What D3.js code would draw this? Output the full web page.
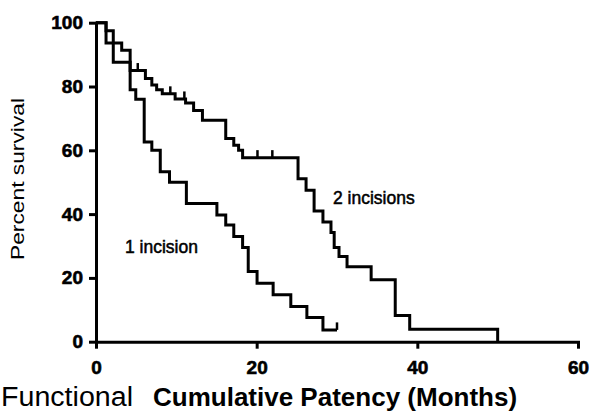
<!DOCTYPE html>
<html>
<head>
<meta charset="utf-8">
<script src="https://cdn.jsdelivr.net/npm/d3@7"></script>
<style>
    body { margin: 0; background: #fff; }
    #chart { width: 591px; height: 415px; }
    text { font-family: "Liberation Sans", Arial, sans-serif; fill: #000; }
</style>
</head>
<body>
<div id="chart"></div>
<script>

// Kaplan-Meier steps: [months, percent]
const twoIncisions = [
    [0, 100], [1.25, 93.6], [3.2, 91.4], [4.25, 85], [6.15, 82.5], [6.95, 80.5],
    [7.55, 79], [8.25, 77.7], [9.85, 76.1], [11.15, 74.8], [12.15, 72.5],
    [13.25, 69.4], [16.15, 63.7], [17.15, 61.6], [17.75, 60], [18.25, 57.7],
    [25.15, 51.1], [26.15, 47.5], [27.15, 41], [28.25, 37.5], [29.25, 34.2],
    [29.65, 29.5], [30.25, 26.7], [31.25, 23.5], [34.25, 19.4], [37.25, 8.2],
    [39.05, 3.9], [50, 0]
];
const twoIncisionsCensored = [5.2, 9.25, 11.0, 20.1, 21.95];

const oneIncision = [
    [0, 100], [1.25, 97.5], [2.15, 87.6], [4.25, 79], [4.95, 76], [6.0, 62.6],
    [6.95, 60], [8.0, 53.3], [9.15, 50], [11.25, 43.3], [15.05, 39.7],
    [16.15, 36.6], [17.15, 33], [18.25, 29.5], [18.95, 22], [20.05, 18.3],
    [22.05, 14.7], [24.25, 11], [26.25, 7.6], [28.25, 3.7], [30, 3.7]
];
const oneIncisionCensored = [30];

const xTicks = [0, 20, 40, 60];
const yTicks = [0, 20, 40, 60, 80, 100];

const width = 591;
const height = 415;

const svg = d3.select("#chart")
    .append("svg")
    .attr("width", width)
    .attr("height", height);

const x = d3.scaleLinear().domain([0, 60]).range([96, 578]);
const y = d3.scaleLinear().domain([0, 100]).range([341.7, 22.7]);

// axes
const yAxis = svg.append("g")
    .attr("transform", "translate(" + x(0) + ",0)")
    .call(d3.axisLeft(y).tickValues(yTicks).tickSize(7).tickSizeOuter(0).tickPadding(6));

const xAxis = svg.append("g")
    .attr("transform", "translate(0," + y(0) + ")")
    .call(d3.axisBottom(x).tickValues(xTicks).tickSize(7).tickSizeOuter(0).tickPadding(12));

[xAxis, yAxis].forEach(function (a) {
    a.select(".domain").style("stroke", "#000").style("stroke-width", 3).style("stroke-linecap", "square");
    a.selectAll(".tick line").style("stroke", "#000").style("stroke-width", 3);
    a.selectAll(".tick text")
        .style("font-family", "'Liberation Sans', Arial, sans-serif")
        .style("font-weight", "bold")
        .style("font-size", "19px")
        .style("fill", "#000")
        .style("stroke", "#000")
        .style("stroke-width", 0.6);
});

// curves
const stepLine = d3.line()
    .x(function (d) { return x(d[0]) })
    .y(function (d) { return y(d[1]) })
    .curve(d3.curveStepAfter);

function lastLevel(data, t) {
    let level = data[0][1];
    data.forEach(function (d) { if (d[0] <= t) level = d[1]; });
    return level;
}

function drawCurve(data, censored) {
    svg.append("path")
        .datum(data)
        .attr("d", stepLine)
        .style("fill", "none")
        .style("stroke", "#000")
        .style("stroke-width", 3)
        .style("stroke-linejoin", "miter");

    svg.selectAll(null)
        .data(censored)
        .enter()
        .append("line")
        .attr("x1", function (d) { return x(d) })
        .attr("x2", function (d) { return x(d) })
        .attr("y1", function (d) { return y(lastLevel(data, d)) })
        .attr("y2", function (d) { return y(lastLevel(data, d)) - 7.5 })
        .style("stroke", "#000")
        .style("stroke-width", 2.5);
}

drawCurve(twoIncisions, twoIncisionsCensored);
drawCurve(oneIncision, oneIncisionCensored);

// labels
svg.append("text")
    .attr("transform", "translate(24,179) rotate(-90)")
    .attr("text-anchor", "middle")
    .attr("textLength", 162)
    .attr("lengthAdjust", "spacingAndGlyphs")
    .style("font-size", "19px")
    .text("Percent survival");

svg.append("text")
    .attr("x", 125)
    .attr("y", 252.5)
    .style("font-size", "17.5px")
    .style("stroke", "#000")
    .style("stroke-width", 0.5)
    .text("1 incision");

svg.append("text")
    .attr("x", 333)
    .attr("y", 204)
    .style("font-size", "17.5px")
    .style("stroke", "#000")
    .style("stroke-width", 0.5)
    .text("2 incisions");

svg.append("text")
    .attr("x", 1)
    .attr("y", 406)
    .attr("textLength", 132)
    .attr("lengthAdjust", "spacingAndGlyphs")
    .style("font-size", "27px")
    .text("Functional");

svg.append("text")
    .attr("x", 153)
    .attr("y", 406)
    .style("font-size", "26px")
    .style("font-weight", "bold")
    .text("Cumulative Patency (Months)");

</script>
</body>
</html>
